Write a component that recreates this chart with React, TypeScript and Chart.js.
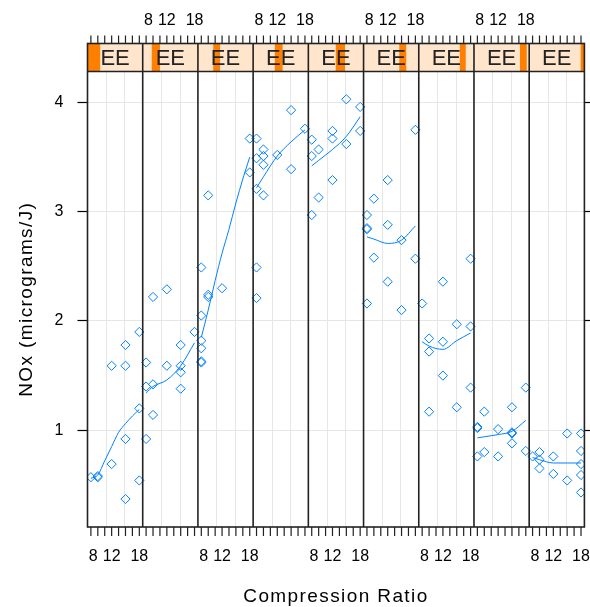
import { useEffect, useRef } from 'react';
import { Chart, registerables } from 'chart.js';

Chart.register(...registerables);

// ---- axis ranges ----
const X_MIN = 6.765;
const X_MAX = 18.735;
const SPAN = X_MAX - X_MIN;
const Y_MIN = 0.114;
const Y_MAX = 4.284;
const E_MIN = 0.535;
const E_MAX = 1.232;

// ---- shingle (EE) intervals ----
const eeLow = [0.535, 0.649, 0.728, 0.809, 0.881, 0.986, 1.053, 1.116, 1.185];
const eeHigh = [0.695, 0.753, 0.814, 0.907, 0.998, 1.074, 1.128, 1.201, 1.232];

// ---- ticks & text ----
const yTicks = [1, 2, 3, 4];
const xTickMarks = [7.5, 9, 10.5, 12, 13.5, 15, 16.5, 18];
const xTickLabels = [8, 12, 18];
const stripLabel = 'EE';
const xTitle = 'Compression Ratio';
const yTitle = 'NOx (micrograms/J)';

// ---- observed points per panel ----
const pointC: number[][] = [
  [7.5, 9, 9, 12, 12, 15, 15, 15, 15, 18, 18, 18],
  [7.5, 7.5, 7.5, 9, 9, 9, 12, 12, 15, 15, 15, 15, 18],
  [7.5, 7.5, 7.5, 7.5, 7.5, 7.5, 9, 9, 9, 12, 18, 18],
  [7.5, 7.5, 7.5, 7.5, 7.5, 9, 9, 9, 9, 12, 15, 15, 18],
  [7.5, 7.5, 7.5, 9, 9, 12, 12, 12, 15, 15, 18, 18],
  [7.5, 7.5, 7.5, 7.5, 9, 9, 12, 12, 12, 15, 15, 18, 18],
  [7.5, 9, 9, 9, 12, 12, 12, 15, 15, 18, 18, 18],
  [7.5, 7.5, 7.5, 9, 9, 12, 12, 15, 15, 15, 15, 18, 18],
  [7.5, 9, 9, 9, 12, 12, 15, 15, 18, 18, 18, 18, 18],
];
const pointNOx: number[][] = [
  [0.57, 0.58, 0.57, 1.59, 0.69, 1.78, 1.59, 0.92, 0.37, 1.9, 1.2, 0.54],
  [1.62, 1.4, 0.92, 2.22, 1.42, 1.14, 2.29, 1.59, 1.78, 1.59, 1.53, 1.38, 1.9],
  [2.49, 2.05, 1.82, 1.75, 1.63, 1.62, 3.15, 2.22, 2.24, 2.3, 3.67, 3.36],
  [3.67, 3.21, 3.49, 2.49, 2.21, 3.57, 3.51, 3.43, 3.15, 3.52, 3.93, 3.39, 3.76],
  [3.66, 3.51, 2.97, 3.57, 3.13, 3.74, 3.67, 3.29, 4.03, 3.62, 3.96, 3.74],
  [2.97, 2.85, 2.84, 2.16, 3.12, 2.58, 3.29, 2.88, 2.36, 2.74, 2.1, 2.57, 3.75],
  [2.16, 1.84, 1.72, 1.17, 2.36, 1.81, 1.5, 1.97, 1.21, 2.57, 1.95, 1.39],
  [1.02, 1.03, 0.76, 1.17, 0.8, 1.01, 0.76, 1.21, 0.98, 0.97, 0.88, 1.39, 0.81],
  [0.76, 0.8, 0.73, 0.65, 0.76, 0.6, 0.97, 0.54, 0.97, 0.81, 0.69, 0.59, 0.43],
];

// ---- loess curves ----
const curveC: number[][] = [
  [7.5, 9, 10.5, 12, 13.5, 15, 16.5, 18],
  [7.5, 9, 12, 15, 18],
  [7.5, 9, 10.5, 12, 13.5, 15, 16.5, 18],
  [7.5, 9, 12, 15, 18],
  [7.5, 9, 12, 15, 18],
  [7.5, 9, 12, 15, 18],
  [7.5, 9, 12, 15, 18],
  [7.5, 9, 12, 15, 18],
  [7.5, 9, 12, 15, 18],
];
const curveNOx: number[][] = [
  [0.56, 0.59, 0.72, 0.85, 0.98, 1.06, 1.13, 1.19],
  [1.34, 1.4, 1.46, 1.59, 1.8],
  [1.85, 2.1, 2.37, 2.62, 2.84, 3.08, 3.3, 3.5],
  [3.22, 3.32, 3.51, 3.64, 3.75],
  [3.42, 3.47, 3.57, 3.69, 3.87],
  [2.77, 2.75, 2.71, 2.74, 2.87],
  [1.81, 1.77, 1.74, 1.82, 1.89],
  [0.93, 0.94, 0.96, 0.99, 1.09],
  [0.75, 0.73, 0.7, 0.7, 0.7],
];

const NPANEL = pointC.length;
const BLUE = '#0080ff';
const FONT = 'Liberation Sans, Arial, sans-serif';

const px = (p: number, c: number) => p * SPAN + (c - X_MIN);

const latticePlugin = {
  id: 'lattice',
  beforeDatasetsDraw(chart: any) {
    const { ctx, chartArea } = chart;
    const xs = chart.scales.x;
    ctx.save();
    ctx.strokeStyle = '#e6e6e6';
    ctx.lineWidth = 1;
    for (let p = 0; p < NPANEL; p++) {
      for (const f of [1 / 3, 2 / 3]) {
        const x = Math.round(xs.getPixelForValue(p * SPAN + f * SPAN)) + 0.5;
        ctx.beginPath();
        ctx.moveTo(x, chartArea.top);
        ctx.lineTo(x, chartArea.bottom);
        ctx.stroke();
      }
    }
    ctx.restore();
  },
  afterDraw(chart: any) {
    const { ctx, chartArea } = chart;
    const xs = chart.scales.x;
    const top = chartArea.top;
    const bottom = chartArea.bottom;
    const stripTop = top - 28;
    ctx.save();
    // strips
    for (let p = 0; p < NPANEL; p++) {
      const l = xs.getPixelForValue(p * SPAN);
      const r = xs.getPixelForValue((p + 1) * SPAN);
      const w = r - l;
      ctx.fillStyle = '#ffe5cc';
      ctx.fillRect(l, stripTop, w, top - stripTop);
      const b0 = l + ((eeLow[p] - E_MIN) / (E_MAX - E_MIN)) * w;
      const b1 = l + ((eeHigh[p] - E_MIN) / (E_MAX - E_MIN)) * w;
      ctx.fillStyle = '#ff7f00';
      ctx.fillRect(b0, stripTop, b1 - b0, top - stripTop);
      ctx.fillStyle = '#222';
      ctx.font = `22px ${FONT}`;
      ctx.textAlign = 'center';
      ctx.textBaseline = 'middle';
      ctx.fillText(stripLabel, (l + r) / 2, (stripTop + top) / 2 + 1);
    }
    // borders
    ctx.strokeStyle = '#222';
    ctx.lineWidth = 1.6;
    ctx.strokeRect(chartArea.left, stripTop, chartArea.right - chartArea.left, bottom - stripTop);
    ctx.beginPath();
    ctx.moveTo(chartArea.left, top);
    ctx.lineTo(chartArea.right, top);
    for (let p = 1; p < NPANEL; p++) {
      const x = xs.getPixelForValue(p * SPAN);
      ctx.moveTo(x, stripTop);
      ctx.lineTo(x, bottom);
    }
    ctx.stroke();
    // x ticks
    ctx.lineWidth = 1.2;
    ctx.beginPath();
    for (let p = 0; p < NPANEL; p++) {
      for (const c of xTickMarks) {
        const x = xs.getPixelForValue(px(p, c));
        ctx.moveTo(x, stripTop);
        ctx.lineTo(x, stripTop - 8);
        ctx.moveTo(x, bottom);
        ctx.lineTo(x, bottom + 9);
      }
    }
    ctx.stroke();
    ctx.fillStyle = '#000';
    ctx.font = `16px ${FONT}`;
    ctx.textAlign = 'center';
    ctx.textBaseline = 'middle';
    for (let p = 0; p < NPANEL; p++) {
      for (const c of xTickLabels) {
        const x = xs.getPixelForValue(px(p, c));
        if (p % 2 === 0) ctx.fillText(String(c), x, bottom + 30);
        else ctx.fillText(String(c), x, stripTop - 23);
      }
    }
    // titles
    ctx.font = `19px ${FONT}`;
    (ctx as any).letterSpacing = '1.4px';
    ctx.fillText(xTitle, (chartArea.left + chartArea.right) / 2, bottom + 70);
    ctx.translate(27, (top + bottom) / 2);
    ctx.rotate(-Math.PI / 2);
    ctx.fillText(yTitle, 0, 0);
    ctx.restore();
  },
};

export default function App() {
  const ref = useRef<HTMLCanvasElement>(null);
  useEffect(() => {
    if (!ref.current) return;
    const datasets: any[] = [];
    for (let p = 0; p < NPANEL; p++) {
      datasets.push({
        data: pointC[p].map((c, i) => ({ x: px(p, c), y: pointNOx[p][i] })),
        showLine: false,
        pointStyle: 'rectRot',
        pointRadius: 4.6,
        borderColor: BLUE,
        pointBorderColor: BLUE,
        backgroundColor: 'rgba(0,0,0,0)',
        pointBackgroundColor: 'rgba(0,0,0,0)',
        pointBorderWidth: 1,
      });
      datasets.push({
        data: curveC[p].map((c, i) => ({ x: px(p, c), y: curveNOx[p][i] })),
        showLine: true,
        pointRadius: 0,
        borderColor: BLUE,
        borderWidth: 1,
        cubicInterpolationMode: 'monotone',
        fill: false,
      });
    }
    const yCommon = {
      type: 'linear',
      min: Y_MIN,
      max: Y_MAX,
      afterBuildTicks: (s: any) => {
        s.ticks = yTicks.map((v) => ({ value: v }));
      },
      border: { display: false },
    };
    const chart = new Chart(ref.current, {
      type: 'scatter',
      data: { datasets },
      plugins: [latticePlugin],
      options: {
        animation: false,
        responsive: false,
        events: [],
        layout: { padding: { top: 71.5, bottom: 80, left: 0, right: 0 } },
        plugins: { legend: { display: false }, tooltip: { enabled: false } },
        scales: {
          x: { type: 'linear', display: false, min: 0, max: NPANEL * SPAN },
          y: {
            ...yCommon,
            position: 'left',
            afterFit: (s: any) => {
              s.width = 87.5;
            },
            ticks: { font: { family: FONT, size: 16 }, color: '#000', padding: 14 },
            grid: { color: '#e6e6e6', tickColor: '#000', tickLength: 10, lineWidth: 1, tickWidth: 1.2 },
          },
          y2: {
            ...yCommon,
            position: 'right',
            afterFit: (s: any) => {
              s.width = 5.5;
            },
            ticks: { display: false },
            grid: { drawOnChartArea: false, tickColor: '#000', tickLength: 8, tickWidth: 1.2 },
          },
        },
      } as any,
    });
    return () => chart.destroy();
  }, []);
  return (
    <div style={{ position: 'fixed', left: 0, top: 0, width: 590, height: 607, background: '#fff' }}>
      <canvas ref={ref} width={590} height={607} style={{ display: 'block' }} />
    </div>
  );
}
